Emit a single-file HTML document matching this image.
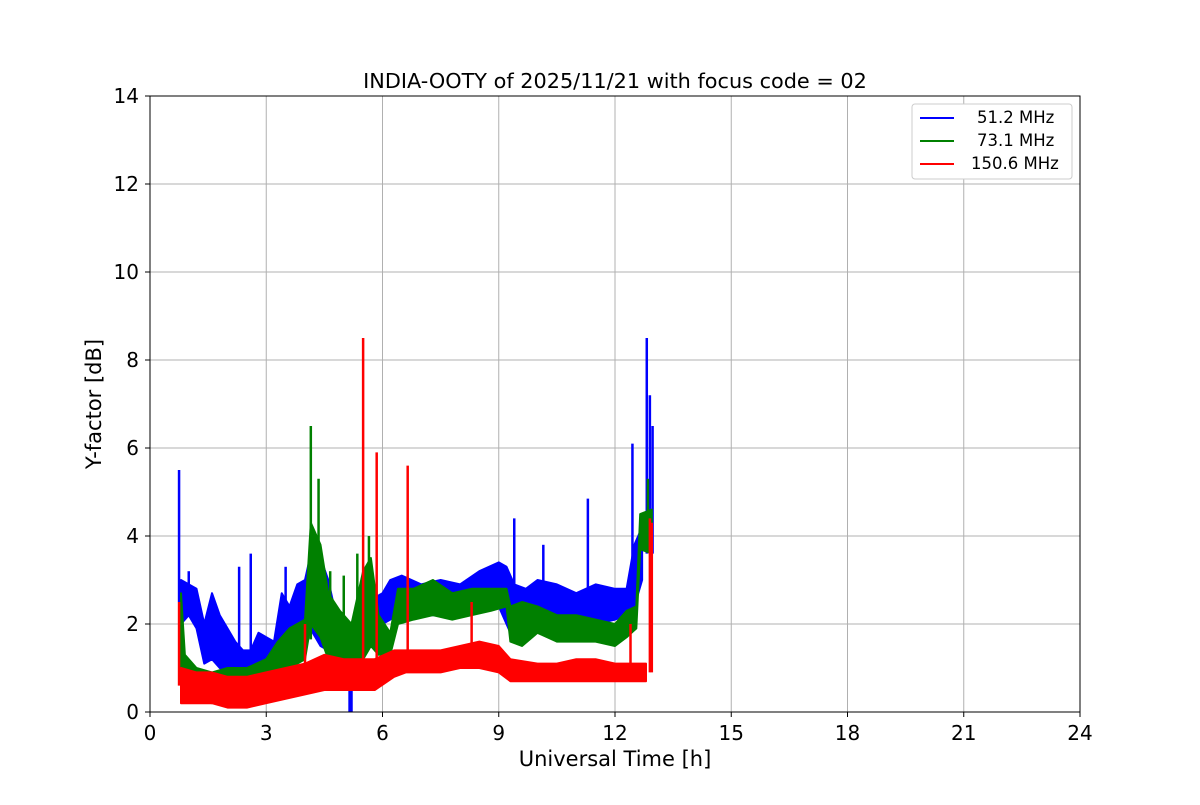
<!DOCTYPE html>
<html><head><meta charset="utf-8"><style>
body{margin:0;background:#fff}
svg text{font-family:"DejaVu Sans","Liberation Sans",sans-serif}
</style></head><body>
<svg id="c" width="1200" height="800">
<rect width="1200" height="800" fill="#fff"/>
<g id="grid"></g><g id="series"></g><g id="axes"></g>
<text x="615" y="88" text-anchor="middle" font-size="20.8">INDIA-OOTY of 2025/11/21 with focus code = 02</text>
<text x="615" y="766" text-anchor="middle" font-size="21">Universal Time [h]</text>
<text x="101" y="404" text-anchor="middle" font-size="21" transform="rotate(-90 101 404)">Y-factor [dB]</text>
<g>
<rect x="912" y="104" width="160" height="75" rx="3" fill="#fff" stroke="#ccc"/>
<line x1="920" y1="118" x2="954" y2="118" stroke="blue" stroke-width="2"/><text x="977" y="123" font-size="16.5">51.2 MHz</text>
<line x1="920" y1="141" x2="954" y2="141" stroke="green" stroke-width="2"/><text x="977" y="146" font-size="16.5">73.1 MHz</text>
<line x1="920" y1="164" x2="954" y2="164" stroke="red" stroke-width="2"/><text x="971" y="169" font-size="16.5">150.6 MHz</text>
</g>
</svg>
<script>
const xTicks=[0,3,6,9,12,15,18,21,24];
const yTicks=[0,2,4,6,8,10,12,14];
const blueT=[0.8,1.0,1.2,1.4,1.6,1.8,2.0,2.2,2.4,2.6,2.8,3.0,3.2,3.4,3.6,3.8,4.0,4.2,4.4,4.6,4.8,5.0,5.2,5.4,5.6,5.8,6.0,6.2,6.5,7.0,7.5,8.0,8.5,9.0,9.2,9.4,9.7,10.0,10.5,11.0,11.5,12.0,12.3,12.5,12.7];
const blueLo=[2.0,2.2,1.9,1.1,1.2,1.0,0.9,0.7,0.7,0.6,0.9,1.0,1.0,1.4,1.5,1.6,1.9,1.8,1.5,1.4,1.1,0.7,0.8,1.1,1.6,1.8,2.0,2.1,2.3,2.2,2.2,2.3,2.3,2.4,2.0,1.6,1.8,1.9,1.9,1.9,2.0,2.1,2.2,2.4,3.0];
const blueHi=[3.0,2.9,2.8,2.0,2.7,2.2,1.9,1.6,1.4,1.4,1.8,1.7,1.6,2.7,2.4,2.9,3.0,3.8,3.5,3.0,2.2,1.9,1.8,2.2,2.7,2.6,2.7,3.0,3.1,2.9,3.0,2.9,3.2,3.4,3.3,2.9,2.8,3.0,2.9,2.7,2.9,2.8,2.8,3.8,4.2];
const blueSpT=[0.75,1.0,2.3,2.6,3.5,4.35,5.15,5.2,9.4,10.15,11.3,12.45,12.82,12.9,12.97];
const blueSpV=[5.5,3.2,3.3,3.6,3.3,3.8,0.0,0.0,4.4,3.8,4.85,6.1,8.5,7.2,6.5];
const greenT=[0.8,0.9,1.2,1.6,2.0,2.5,3.0,3.3,3.6,4.0,4.15,4.4,4.6,4.9,5.2,5.5,5.7,5.9,6.2,6.4,6.8,7.3,7.8,8.3,8.8,9.2,9.3,9.6,10.0,10.5,11.0,11.5,12.0,12.3,12.55,12.65,12.95];
const greenLo=[0.5,0.5,0.4,0.2,0.3,0.3,0.5,0.8,1.0,1.2,2.0,1.7,1.2,1.0,1.1,1.2,1.5,1.3,1.3,2.0,2.1,2.2,2.1,2.2,2.3,2.4,1.6,1.5,1.8,1.6,1.6,1.6,1.5,1.7,1.9,3.7,3.6];
const greenHi=[2.7,1.3,1.0,0.9,1.0,1.0,1.2,1.6,1.9,2.1,4.3,3.8,2.7,2.3,2.0,3.2,3.5,2.2,1.8,2.8,2.8,3.0,2.7,2.8,2.8,2.8,2.4,2.5,2.4,2.2,2.2,2.1,2.0,2.3,2.4,4.5,4.6];
const greenSpT=[4.15,4.35,4.65,5.0,5.35,5.65,12.85];
const greenSpV=[6.5,5.3,3.2,3.1,3.6,4.0,5.3];
const redT=[0.8,1.2,1.6,2.0,2.5,3.0,3.5,4.0,4.5,5.0,5.3,5.8,6.3,6.6,7.0,7.5,8.0,8.5,9.0,9.3,10.0,10.5,11.0,11.5,12.0,12.5,12.8];
const redLo=[0.2,0.2,0.2,0.1,0.1,0.2,0.3,0.4,0.5,0.5,0.5,0.5,0.8,0.9,0.9,0.9,1.0,1.0,0.9,0.7,0.7,0.7,0.7,0.7,0.7,0.7,0.7];
const redHi=[1.0,0.9,0.9,0.8,0.8,0.9,1.0,1.1,1.3,1.2,1.2,1.2,1.4,1.4,1.4,1.4,1.5,1.6,1.5,1.2,1.1,1.1,1.2,1.2,1.1,1.1,1.1];
const redSpT=[0.75,4.0,5.5,5.85,6.65,8.3,12.4,12.9,12.95];
const redSpV=[2.5,2.0,8.5,5.9,5.6,2.5,2.0,4.4,4.3];
const X=t=>150+t*930/24, Y=v=>712-v*616/14;
const NS='http://www.w3.org/2000/svg';
function mk(tag,attrs,parent){const e=document.createElementNS(NS,tag);for(const k in attrs)e.setAttribute(k,attrs[k]);parent.appendChild(e);return e;}
const grid=document.getElementById('grid'),axes=document.getElementById('axes'),ser=document.getElementById('series');
xTicks.forEach(t=>{
 const l=mk('line',{x1:X(t),x2:X(t),y1:96,y2:712,stroke:'#b0b0b0','stroke-width':1},grid);
 
 
 mk('line',{x1:X(t),x2:X(t),y1:712,y2:717,stroke:'#000'},axes);
 const tx=mk('text',{x:X(t),y:740,'text-anchor':'middle','font-size':20},axes);tx.textContent=t;
 
 
});
yTicks.forEach(v=>{
 const l=mk('line',{x1:150,x2:1080,y1:Y(v),y2:Y(v),stroke:'#b0b0b0','stroke-width':1},grid);
 
 
 mk('line',{x1:145,x2:150,y1:Y(v),y2:Y(v),stroke:'#000'},axes);
 const tx=mk('text',{x:139,y:Y(v)+7,'text-anchor':'end','font-size':20},axes);tx.textContent=v;
 
 
});
const fr=mk('rect',{x:150,y:96,width:930,height:616,fill:'none',stroke:'#000','stroke-width':1},axes);


function band(T,lo,hi,spT,spV,col,name){
 const g=mk('g',{},ser);
 
 
 let pts=[];
 for(let i=0;i<T.length;i++)pts.push(X(T[i])+','+Y(hi[i]));
 for(let i=T.length-1;i>=0;i--)pts.push(X(T[i])+','+Y(lo[i]));
 const p=mk('polygon',{points:pts.join(' '),fill:col,stroke:col,'stroke-width':2,'stroke-linejoin':'round'},g);
 
 
 spT.forEach((t,i)=>{
  let j=0;while(j<T.length-1&&T[j+1]<t)j++;
  const base=(lo[j]+hi[j])/2;
  const s=mk('line',{x1:X(t),x2:X(t),y1:Y(base),y2:Y(spV[i]),stroke:col,'stroke-width':2.5},g);
  
  
 });
}
band(blueT,blueLo,blueHi,blueSpT,blueSpV,'blue','series-51mhz');
band(greenT,greenLo,greenHi,greenSpT,greenSpV,'green','series-73mhz');
band(redT,redLo,redHi,redSpT,redSpV,'red','series-150mhz');
</script>
</body></html>
